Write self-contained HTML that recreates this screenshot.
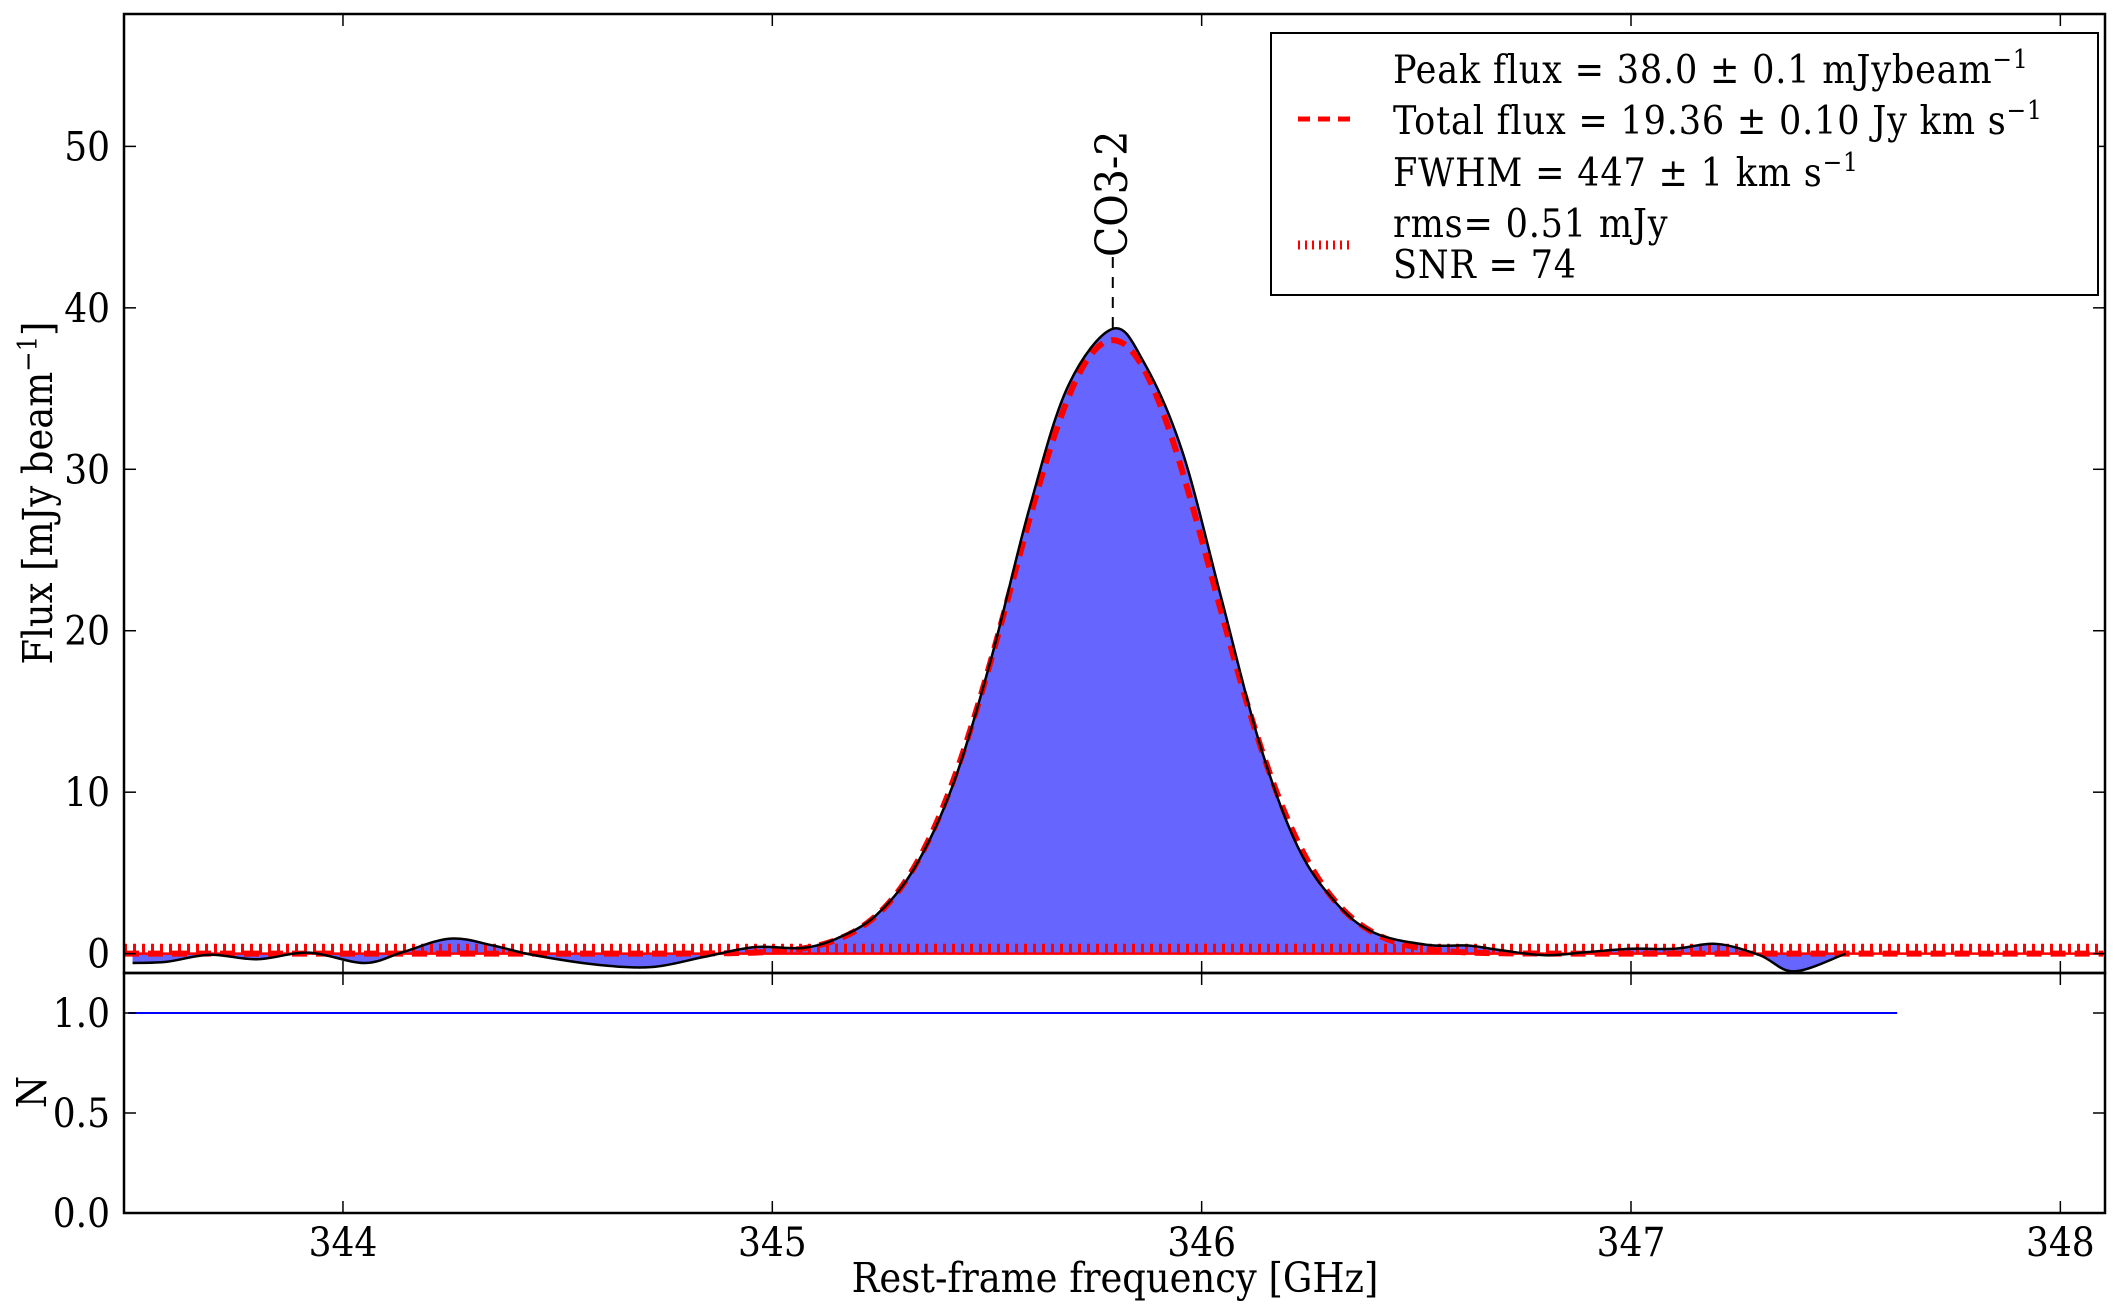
<!DOCTYPE html>
<html><head><meta charset="utf-8"><style>
body{margin:0;background:#fff}
svg{display:block}
text{font-family:"DejaVu Serif Condensed","DejaVu Serif","Liberation Serif",serif;fill:#000}
#legend text{letter-spacing:0.8px}
</style></head><body>
<svg id="chart" width="2119" height="1313" xmlns="http://www.w3.org/2000/svg">
<defs>
<clipPath id="clipTop"><rect x="124" y="14" width="1981" height="959"/></clipPath>
</defs>
<g id="topPanel"></g>
<g id="botPanel"></g>
<g id="legend">
<rect x="1271" y="33" width="827" height="262" fill="#fff" stroke="#000" stroke-width="2"/>
<text x="1393" y="83" font-size="39">Peak flux = 38.0 ± 0.1 mJybeam<tspan dy="-15" font-size="26">−1</tspan></text>
<line x1="1298" y1="119" x2="1351" y2="119" stroke="#f00" stroke-width="5" stroke-dasharray="12,8"/>
<text x="1393" y="134" font-size="39">Total flux = 19.36 ± 0.10 Jy km s<tspan dy="-15" font-size="26">−1</tspan></text>
<text x="1393" y="186" font-size="39">FWHM = 447 ± 1 km s<tspan dy="-15" font-size="26">−1</tspan></text>
<line x1="1298" y1="245" x2="1351" y2="245" stroke="#f00" stroke-width="9" stroke-dasharray="2,5"/>
<text x="1393" y="237" font-size="39">rms= 0.51 mJy</text>
<text x="1393" y="278" font-size="39">SNR = 74</text>
</g>
</svg>
<script>
const freqs=[343.51,343.59,343.69,343.80,343.92,344.05,344.14,344.25,344.35,344.44,344.59,344.72,344.84,344.96,345.07,345.153,345.241,345.331,345.420,345.509,345.599,345.688,345.793,345.866,345.955,346.044,346.134,346.223,346.312,346.401,346.526,346.62,346.70,346.80,346.90,347.00,347.10,347.20,347.30,347.38,347.50];
const fluxes=[-0.58,-0.5,-0.07,-0.35,0.06,-0.58,0.1,0.93,0.5,-0.07,-0.68,-0.83,-0.21,0.41,0.35,0.97,2.36,5.3,10.4,18.2,27.6,35.1,38.7,36.6,31.1,22.2,13.1,6.66,3.17,1.3,0.54,0.5,0.2,-0.1,0.1,0.3,0.3,0.6,-0.1,-1.1,0.0];
const fitPeak=[38.0];
const fitCenter=[345.793];
const fitFwhmGHz=[0.55];
const rmsVal=[0.51];
const xTicks=[344,345,346,347,348];
const yTicksTop=[0,10,20,30,40,50];
const yTicksBot=[0.0,0.5,1.0];
const coverageRange=[343.5,347.62];
const coverageVal=[1.0];
const lineName=["CO3-2"];
const lineFreq=[345.793];

const NS="http://www.w3.org/2000/svg";
const L=124,R=2105,T1=14,B1=973,T2=973,B2=1213;
const X0=343.49,X1=348.104;
const x=f=>L+(f-X0)/(X1-X0)*(R-L);
const yT=v=>B1-(v+1.2)/(58.2+1.2)*(B1-T1);
const yB=v=>B2-v/1.2*(B2-T2);
function el(tag,attrs,parent){const e=document.createElementNS(NS,tag);for(const k in attrs)e.setAttribute(k,attrs[k]);parent.appendChild(e);return e;}
const gTopP=document.getElementById('topPanel'),gBotP=document.getElementById('botPanel');

function smooth(pts){let d=`M${pts[0][0]},${pts[0][1]}`;for(let i=0;i<pts.length-1;i++){const p0=pts[i-1]||pts[i],p1=pts[i],p2=pts[i+1],p3=pts[i+2]||p2;d+=` C${p1[0]+(p2[0]-p0[0])/6},${p1[1]+(p2[1]-p0[1])/6} ${p2[0]-(p3[0]-p1[0])/6},${p2[1]-(p3[1]-p1[1])/6} ${p2[0]},${p2[1]}`;}return d;}
const pts=freqs.map((f,i)=>[x(f),yT(fluxes[i])]);
const gClip=el('g',{'clip-path':'url(#clipTop)'},gTopP);
let fill=el('path',{d:smooth(pts)+` L${x(freqs[freqs.length-1])},${yT(0)} L${x(freqs[0])},${yT(0)} Z`,fill:'#6666ff',stroke:'none'},gClip);


let rms=el('line',{x1:L,x2:R,y1:yT(rmsVal[0]/2+0.05),y2:yT(rmsVal[0]/2+0.05),stroke:'#f00','stroke-width':yT(0)-yT(rmsVal[0]+0.1),'stroke-dasharray':'3,6'},gClip);


let zl=el('line',{x1:L,x2:R,y1:yT(0),y2:yT(0),stroke:'#f00','stroke-width':2.5},gClip);


const sig=fitFwhmGHz[0]/2.3548;let fp=[];
for(let f=X0;f<=X1;f+=0.01){fp.push(`${x(f)},${yT(fitPeak[0]*Math.exp(-0.5*((f-fitCenter[0])/sig)**2))}`);}
let fit=el('polyline',{points:fp.join(' '),fill:'none',stroke:'#f00','stroke-width':6,'stroke-dasharray':'15,9'},gClip);


let sp=el('path',{d:smooth(pts),fill:'none',stroke:'#000','stroke-width':2.5},gClip);


const lx=x(lineFreq[0]),py=yT(Math.max(...fluxes));
let ml=el('line',{x1:lx,x2:lx,y1:257,y2:py,stroke:'#000','stroke-width':2,'stroke-dasharray':'11,9'},gTopP);


let lt=el('text',{x:0,y:0,'font-size':44,transform:`translate(${lx+14},257) rotate(-90)`},gTopP);lt.textContent=lineName[0];



let cov=el('line',{x1:x(coverageRange[0]),x2:x(coverageRange[1]),y1:yB(coverageVal[0]),y2:yB(coverageVal[0]),stroke:'#00f','stroke-width':2},gBotP);



for(const [t,b,g] of [[T1,B1,gTopP],[T2,B2,gBotP]]){
 let fr=el('rect',{x:L,y:t,width:R-L,height:b-t,fill:'none',stroke:'#000','stroke-width':2.5},g);
 
 
 xTicks.forEach(v=>{el('line',{x1:x(v),x2:x(v),y1:b,y2:b-12,stroke:'#000','stroke-width':1.5},g);el('line',{x1:x(v),x2:x(v),y1:t,y2:t+12,stroke:'#000','stroke-width':1.5},g);});
}
yTicksTop.forEach(v=>{const y=yT(v);el('line',{x1:L,x2:L+12,y1:y,y2:y,stroke:'#000','stroke-width':1.5},gTopP);el('line',{x1:R,x2:R-12,y1:y,y2:y,stroke:'#000','stroke-width':1.5},gTopP);
 const t=el('text',{x:L-14,y:y+14,'font-size':40,'text-anchor':'end'},gTopP);t.textContent=v;
 
 });
yTicksBot.forEach(v=>{const y=yB(v);el('line',{x1:L,x2:L+12,y1:y,y2:y,stroke:'#000','stroke-width':1.5},gBotP);el('line',{x1:R,x2:R-12,y1:y,y2:y,stroke:'#000','stroke-width':1.5},gBotP);
 const t=el('text',{x:L-14,y:y+14,'font-size':40,'text-anchor':'end'},gBotP);t.textContent=v.toFixed(1);
 
 });
xTicks.forEach(v=>{const t=el('text',{x:x(v),y:1256,'font-size':40,'text-anchor':'middle'},gBotP);t.textContent=v;
 
 });
let xl=el('text',{x:1115,y:1292,'font-size':41,'text-anchor':'middle'},gBotP);xl.textContent='Rest-frame frequency [GHz]';


let yl=el('text',{x:0,y:0,'font-size':41,'text-anchor':'middle',transform:'translate(52,493) rotate(-90)'},gTopP);
yl.innerHTML='Flux [mJy beam<tspan dy="-15" font-size="27">−1</tspan><tspan dy="15">]</tspan>';


let nl=el('text',{x:0,y:0,'font-size':41,'text-anchor':'middle',transform:'translate(46,1092) rotate(-90)'},gBotP);nl.textContent='N';


</script>
</body></html>
